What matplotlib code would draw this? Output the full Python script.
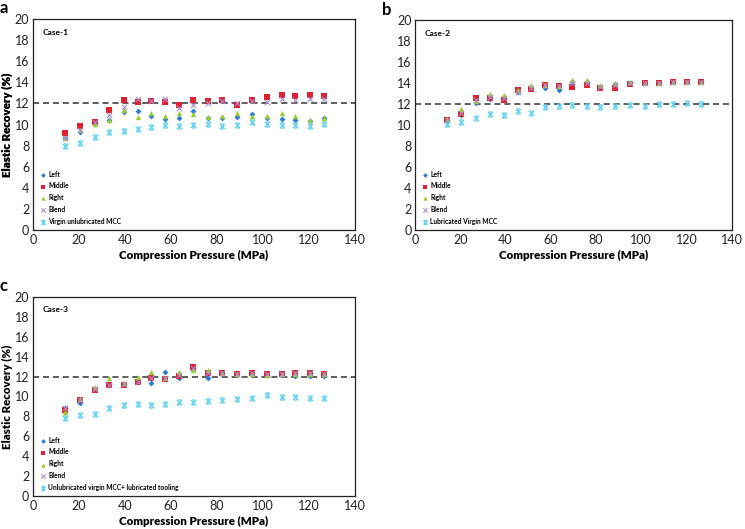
import matplotlib
matplotlib.use("Agg")
import matplotlib.pyplot as plt
import numpy as np
from matplotlib.path import Path

plt.rcParams['font.family'] = ['Lato', 'DejaVu Sans']

pressure = [14, 20.5, 27, 33, 39.5, 45.5, 51.5, 57.5, 63.5, 69.5, 76, 82, 88.5, 95, 101.5, 108, 114, 120.5, 126.5]

# Case-1
a_left = [8.7, 9.3, 10.1, 10.4, 11.2, 11.3, 10.8, 10.5, 10.6, 11.3, 10.6, 10.6, 10.7, 11.0, 10.6, 10.5, 10.4, 10.3, 10.6]
a_middle = [9.2, 9.9, 10.2, 11.4, 12.3, 12.1, 12.2, 12.1, 11.9, 12.3, 12.2, 12.3, 11.9, 12.3, 12.6, 12.8, 12.7, 12.8, 12.7]
a_right = [8.7, 9.5, 10.1, 10.4, 11.4, 10.7, 11.1, 10.8, 11.1, 11.0, 10.7, 10.8, 11.1, 10.8, 10.8, 11.1, 10.8, 10.4, 10.6]
a_blend = [8.7, 9.5, 10.2, 10.9, 11.7, 12.4, 12.2, 12.4, 11.6, 11.9, 12.0, 12.2, 12.0, 12.2, 12.1, 12.4, 12.3, 12.4, 12.4]
a_ref = [8.0, 8.3, 8.8, 9.3, 9.4, 9.6, 9.8, 10.0, 9.9, 10.0, 10.1, 9.9, 10.0, 10.2, 10.1, 10.0, 10.0, 9.9, 10.1]

# Case-2
b_left = [10.5, 11.0, 12.1, 12.5, 12.6, 13.2, 13.5, 13.5, 13.3, 14.1, 14.0, 13.6, 13.9, 13.9, 14.0, 14.0, 14.1, 14.1, 14.1]
b_middle = [10.5, 11.1, 12.6, 12.6, 12.4, 13.3, 13.4, 13.8, 13.7, 13.6, 13.8, 13.5, 13.5, 13.9, 14.0, 14.0, 14.1, 14.1, 14.1]
b_right = [10.6, 11.5, 12.3, 13.0, 12.9, 13.3, 13.8, 13.8, 13.7, 14.3, 14.3, 13.8, 14.0, 14.1, 14.0, 14.0, 14.1, 14.1, 14.1]
b_blend = [10.5, 11.2, 12.4, 12.7, 12.6, 13.2, 13.5, 13.8, 13.7, 14.0, 14.0, 13.6, 13.8, 14.0, 14.0, 14.0, 14.1, 14.1, 14.1]
b_ref = [10.1, 10.3, 10.7, 11.1, 11.0, 11.3, 11.2, 11.7, 11.8, 11.9, 11.8, 11.7, 11.8, 11.9, 11.8, 12.0, 12.0, 12.1, 12.0]

# Case-3
c_left = [8.8, 9.3, 10.8, 11.3, 11.3, 11.6, 11.4, 12.5, 11.9, 12.7, 11.9, 12.3, 12.2, 12.3, 12.2, 12.2, 12.1, 12.1, 12.1]
c_middle = [8.6, 9.6, 10.7, 11.2, 11.2, 11.5, 11.9, 11.8, 12.1, 13.0, 12.4, 12.4, 12.3, 12.4, 12.3, 12.3, 12.4, 12.4, 12.3]
c_right = [8.4, 9.7, 11.0, 11.9, 11.4, 12.0, 12.5, 11.9, 12.5, 12.7, 12.7, 12.4, 12.3, 12.3, 12.2, 12.3, 12.3, 12.3, 12.3]
c_blend = [8.8, 9.6, 10.8, 11.2, 11.3, 11.5, 11.9, 11.9, 12.2, 12.9, 12.4, 12.4, 12.3, 12.4, 12.3, 12.3, 12.4, 12.4, 12.3]
c_ref = [7.8, 8.1, 8.2, 8.8, 9.1, 9.2, 9.1, 9.2, 9.4, 9.4, 9.5, 9.6, 9.7, 9.8, 10.1, 9.9, 9.9, 9.8, 9.8]

series_names = ["Left", "Middle", "Right", "Blend"]
ref_labels = ["Virgin unlubricated MCC", "Lubricated Virgin MCC",
              "Unlubricated virgin MCC+ lubricated tooling"]
case_titles = ["Case-1", "Case-2", "Case-3"]
panel_letters = ["a", "b", "c"]
threshold = 12

# Excel-like star marker: x with short top/bottom bars
star_verts = [(-1, -1), (1, 1), (-1, 1), (1, -1), (-0.5, 1), (0.5, 1), (-0.5, -1), (0.5, -1)]
star_codes = [Path.MOVETO, Path.LINETO, Path.MOVETO, Path.LINETO,
              Path.MOVETO, Path.LINETO, Path.MOVETO, Path.LINETO]
star_marker = Path(star_verts, star_codes)

styles = [
    dict(marker="D", color="#2E7BD6", s=9, lw=0),
    dict(marker="s", color="#E0202E", s=20, lw=0),
    dict(marker="^", color="#9ACD32", s=15, lw=0),
    dict(marker="x", color="#A98ED0", s=15, lw=0.8),
]
ref_style = dict(marker=star_marker, color="#5BD0F0", s=14, lw=0.9)

fig = plt.figure(figsize=(7.45, 5.29), dpi=100)
positions = [
    [0.044, 0.565, 0.433, 0.399],
    [0.557, 0.565, 0.425, 0.397],
    [0.044, 0.062, 0.433, 0.377],
]
data = [
    (a_left, a_middle, a_right, a_blend, a_ref),
    (b_left, b_middle, b_right, b_blend, b_ref),
    (c_left, c_middle, c_right, c_blend, c_ref),
]

for i in range(3):
    ax = fig.add_axes(positions[i])
    series = data[i]
    for name, vals, st in zip(series_names, series[:4], styles):
        ax.scatter(pressure, vals, label=name, zorder=3, **st)
    ax.scatter(pressure, series[4], label=ref_labels[i], zorder=3, **ref_style)
    ax.axhline(threshold, color="#333333", ls=(0, (4, 2.5)), lw=1.1, zorder=2)
    ax.set_xlim(0, 140)
    ax.set_ylim(0, 20)
    ax.set_xticks(np.arange(0, 141, 20))
    ax.set_yticks(np.arange(0, 21, 2))
    ax.tick_params(length=0, labelsize=9, colors="#222222", pad=2.5)
    for sp in ax.spines.values():
        sp.set_color("#222222")
        sp.set_linewidth(0.9)
    ax.set_xlabel("Compression Pressure (MPa)", fontsize=8.3, fontweight="heavy", labelpad=3)
    ax.set_ylabel("Elastic Recovery (%)", fontsize=8.3, fontweight="heavy")
    bb = ax.get_position()
    ax.yaxis.set_label_coords((13 / 745 - bb.x0) / bb.width, 0.5)
    ax.text(0.03, 0.955, case_titles[i], transform=ax.transAxes, fontsize=6,
            fontweight="bold", va="top", ha="left")
    ax.legend(loc="lower left", frameon=False, handletextpad=0.1,
              labelspacing=0.72, borderaxespad=0.4, handlelength=1.4, markerscale=0.8,
              prop=dict(size=4.8, weight="bold"))
    fig.text(bb.x0 - 0.044, bb.y1 + 0.02, panel_letters[i], fontsize=12,
             fontweight="bold", ha="left", va="center")

fig.savefig("out.png", dpi=100)
